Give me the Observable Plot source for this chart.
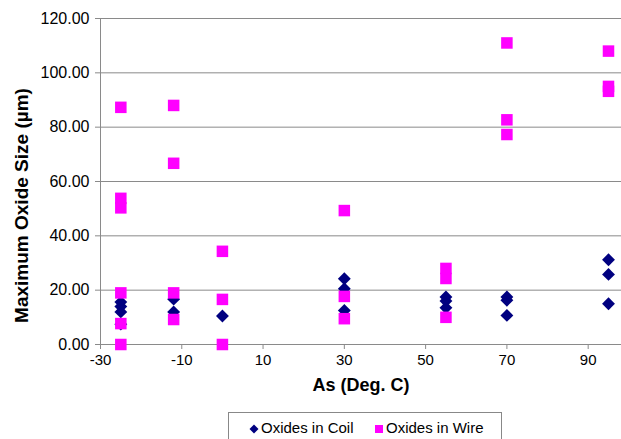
<!DOCTYPE html>
<html>
<head>
<meta charset="utf-8">
<script src="https://cdn.jsdelivr.net/npm/d3@7"></script>
<script src="https://cdn.jsdelivr.net/npm/@observablehq/plot@0.6"></script>
<style>
  body { margin: 0; background: #fff; font-family: Arial, "Liberation Sans", sans-serif; }
  #legend { position: absolute; left: 228px; top: 412px; width: 274px; height: 34px; border: 1px solid #888; box-sizing: border-box; font-size: 15px; color: #000; }
  .item { position: absolute; top: 6px; white-space: nowrap; }
  .item svg { vertical-align: -1px; margin-right: 2px; }
</style>
</head>
<body>
<div id="chart"></div>
<div id="legend"></div>
<script>
// Series: As temperature (Deg. C) and maximum oxide size (µm)
const coilAs   = [-25, -25, -25, -25, -12, -12, 0, 30, 30, 30, 55, 55, 55, 70, 70, 70, 95, 95, 95];
const coilSize = [15.6, 14, 12, 7.5, 16.7, 12, 10.5, 24.2, 20.5, 12.5, 17.5, 16, 13.5, 17.5, 16.3, 10.7, 31.2, 25.8, 15];
const wireAs   = [-25, -25, -25, -25, -25, -25, -12, -12, -12, -12, 0, 0, 0, 30, 30, 30, 55, 55, 55, 70, 70, 70, 95, 95, 95];
const wireSize = [87.3, 53.8, 50.3, 19, 7.7, 0, 88, 66.7, 19, 9.2, 34.3, 16.6, 0, 49.3, 17.7, 9.5, 28, 24.3, 10, 111, 82.7, 77.3, 108, 95, 93.2];
const seriesNames = ["Oxides in Coil", "Oxides in Wire"];
const seriesColors = ["#000080", "#FF00FF"];
const xTicks = [-30, -10, 10, 30, 50, 70, 90];
const yTicks = [0, 20, 40, 60, 80, 100, 120];
const xTitle = "As (Deg. C)";
const yTitle = "Maximum Oxide Size (µm)";

const coil = coilAs.map((a, i) => ({as: a, size: coilSize[i]}));
const wire = wireAs.map((a, i) => ({as: a, size: wireSize[i]}));

const chart = Plot.plot({
  width: 621,
  height: 405,
  marginTop: 18,
  marginBottom: 61,
  marginLeft: 100,
  marginRight: 0,
  style: {fontFamily: "Arial, 'Liberation Sans', sans-serif", fontSize: "15px", color: "#000", background: "#fff"},
  x: {domain: [-30, 98.2]},
  y: {domain: [0, 120]},
  marks: [
    Plot.gridY(yTicks, {stroke: "#8a8a8a", strokeOpacity: 1}),
    Plot.ruleX([-30], {stroke: "#8a8a8a"}),
    Plot.ruleY([0], {stroke: "#8a8a8a"}),
    Plot.axisY(yTicks, {tickFormat: d3.format(".2f"), tickSize: 5, tickPadding: 6, stroke: "#8a8a8a", fontSize: 16, label: null}),
    Plot.axisX(xTicks, {tickFormat: d => String(d), tickSize: 5, tickPadding: 5, stroke: "#8a8a8a", fontSize: 15, label: null}),
    Plot.text([xTitle], {frameAnchor: "bottom", dy: 46, fontWeight: "bold", fontSize: 18}),
    Plot.text([yTitle], {frameAnchor: "left", textAnchor: "middle", dx: -79, dy: 24, rotate: -90, fontWeight: "bold", fontSize: 19}),
    Plot.dot(coil, {x: "as", y: "size", symbol: "diamond2", r: 5.8, fill: seriesColors[0], stroke: "none"}),
    Plot.dot(wire, {x: "as", y: "size", symbol: "square", r: 6.5, fill: seriesColors[1], stroke: "none"})
  ]
});
document.getElementById("chart").appendChild(chart);

const legend = document.getElementById("legend");
const shapes = [
  '<svg width="10" height="10" viewBox="-5 -5 10 10"><path d="M0,-4.5L4.5,0L0,4.5L-4.5,0Z" fill="' + seriesColors[0] + '"/></svg>',
  '<svg width="10" height="10" viewBox="-5 -5 10 10"><rect x="-4" y="-4" width="8" height="8" fill="' + seriesColors[1] + '"/></svg>'
];
const lefts = [20, 145];
seriesNames.forEach((n, i) => {
  const s = document.createElement("span");
  s.className = "item";
  s.style.left = lefts[i] + "px";
  s.innerHTML = shapes[i] + n;
  legend.appendChild(s);
});
</script>
</body>
</html>
